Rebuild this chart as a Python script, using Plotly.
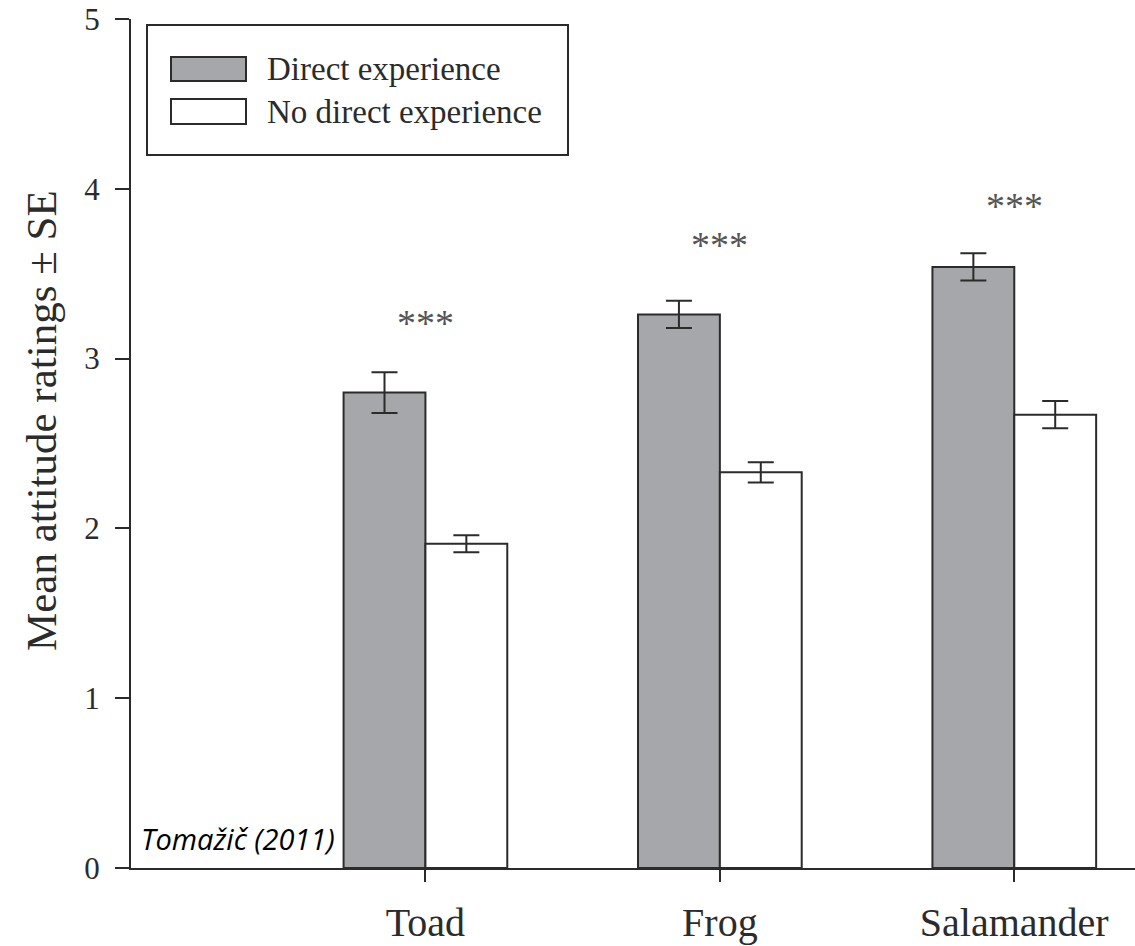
import plotly.graph_objects as go

# Mean attitude ratings (± SE) towards three amphibians
species = ["Toad", "Frog", "Salamander"]
direct_mean = [2.80, 3.26, 3.54]
direct_se = [0.12, 0.08, 0.08]
nodirect_mean = [1.91, 2.33, 2.67]
nodirect_se = [0.05, 0.06, 0.08]
significance = ["***", "***", "***"]
y_ticks = [0, 1, 2, 3, 4, 5]

W, H = 1135, 946
M_L, M_R, M_T, M_B = 131, 0, 19, 78
PW, PH = W - M_L - M_R, H - M_T - M_B

SERIF = "Liberation Serif, Times New Roman, serif"
INK = "#2b2b2b"
GREY = "#a6a7aa"


def px_x(x):
    """Pixel column -> paper x."""
    return (x - M_L) / PW


def px_y(y):
    """Pixel row -> paper y."""
    return (H - M_B - y) / PH


fig = go.Figure()

err_style = dict(type="data", visible=True, color=INK, thickness=2, width=13)

fig.add_trace(go.Bar(
    x=species, y=direct_mean, name="Direct experience",
    marker=dict(color=GREY, line=dict(color=INK, width=2)),
    error_y=dict(array=direct_se, **err_style),
))
fig.add_trace(go.Bar(
    x=species, y=nodirect_mean, name="No direct experience",
    marker=dict(color="white", line=dict(color=INK, width=2)),
    error_y=dict(array=nodirect_se, **err_style),
))

annotations = []
# significance stars above each pair
star_heights = [3.21, 3.67, 3.90]
for sp, sig, ys in zip(species, significance, star_heights):
    annotations.append(dict(
        x=sp, y=ys, xref="x", yref="y", text=sig, showarrow=False,
        font=dict(family=SERIF, size=38, color="#555555"), yanchor="middle",
    ))

# hand-drawn legend box
shapes = [
    dict(type="rect", xref="paper", yref="paper",
         x0=px_x(147), x1=px_x(568), y0=px_y(155), y1=px_y(25),
         line=dict(color=INK, width=2), fillcolor="white", layer="above"),
    dict(type="rect", xref="paper", yref="paper",
         x0=px_x(171), x1=px_x(246), y0=px_y(81), y1=px_y(57),
         line=dict(color=INK, width=2), fillcolor=GREY, layer="above"),
    dict(type="rect", xref="paper", yref="paper",
         x0=px_x(171), x1=px_x(246), y0=px_y(124), y1=px_y(99),
         line=dict(color=INK, width=2), fillcolor="white", layer="above"),
]
for label, yc in [("Direct experience", 69), ("No direct experience", 111.5)]:
    annotations.append(dict(
        x=px_x(265), y=px_y(yc), xref="paper", yref="paper", text=label,
        showarrow=False, xanchor="left", yanchor="middle",
        font=dict(family=SERIF, size=33, color=INK),
    ))

# y-axis title
annotations.append(dict(
    x=px_x(41), y=px_y(421), xref="paper", yref="paper",
    text="Mean attitude ratings ± SE", textangle=-90, showarrow=False,
    xanchor="center", yanchor="middle",
    font=dict(family=SERIF, size=43, color=INK),
))

annotations.append(dict(
    x=px_x(139), y=px_y(838), xref="paper", yref="paper", text="<i>Tomažič (2011)</i>",
    showarrow=False, xanchor="left", yanchor="middle",
    font=dict(family="Open Sans, Liberation Sans, sans-serif", size=29, color="black"),
))

fig.update_layout(
    width=W, height=H,
    margin=dict(l=M_L, r=M_R, t=M_T, b=M_B, pad=0),
    paper_bgcolor="white", plot_bgcolor="white",
    barmode="group", bargap=0.444, bargroupgap=0,
    showlegend=False,
    font=dict(family=SERIF, color=INK),
    annotations=annotations, shapes=shapes,
    xaxis=dict(
        range=[-1.0, 2.41], showline=True, linecolor=INK, linewidth=2,
        ticks="outside", ticklen=12, tickwidth=2, tickcolor=INK,
        showgrid=False, zeroline=False, ticklabelstandoff=6,
        tickfont=dict(family=SERIF, size=40, color=INK),
    ),
    yaxis=dict(
        range=[0, 5], tickvals=y_ticks, showline=True, linecolor=INK, linewidth=2,
        ticks="outside", ticklen=14, tickwidth=2, tickcolor=INK,
        showgrid=False, zeroline=False, ticklabelstandoff=9,
        tickfont=dict(family=SERIF, size=31, color=INK),
    ),
)

fig.write_html("out.html")
